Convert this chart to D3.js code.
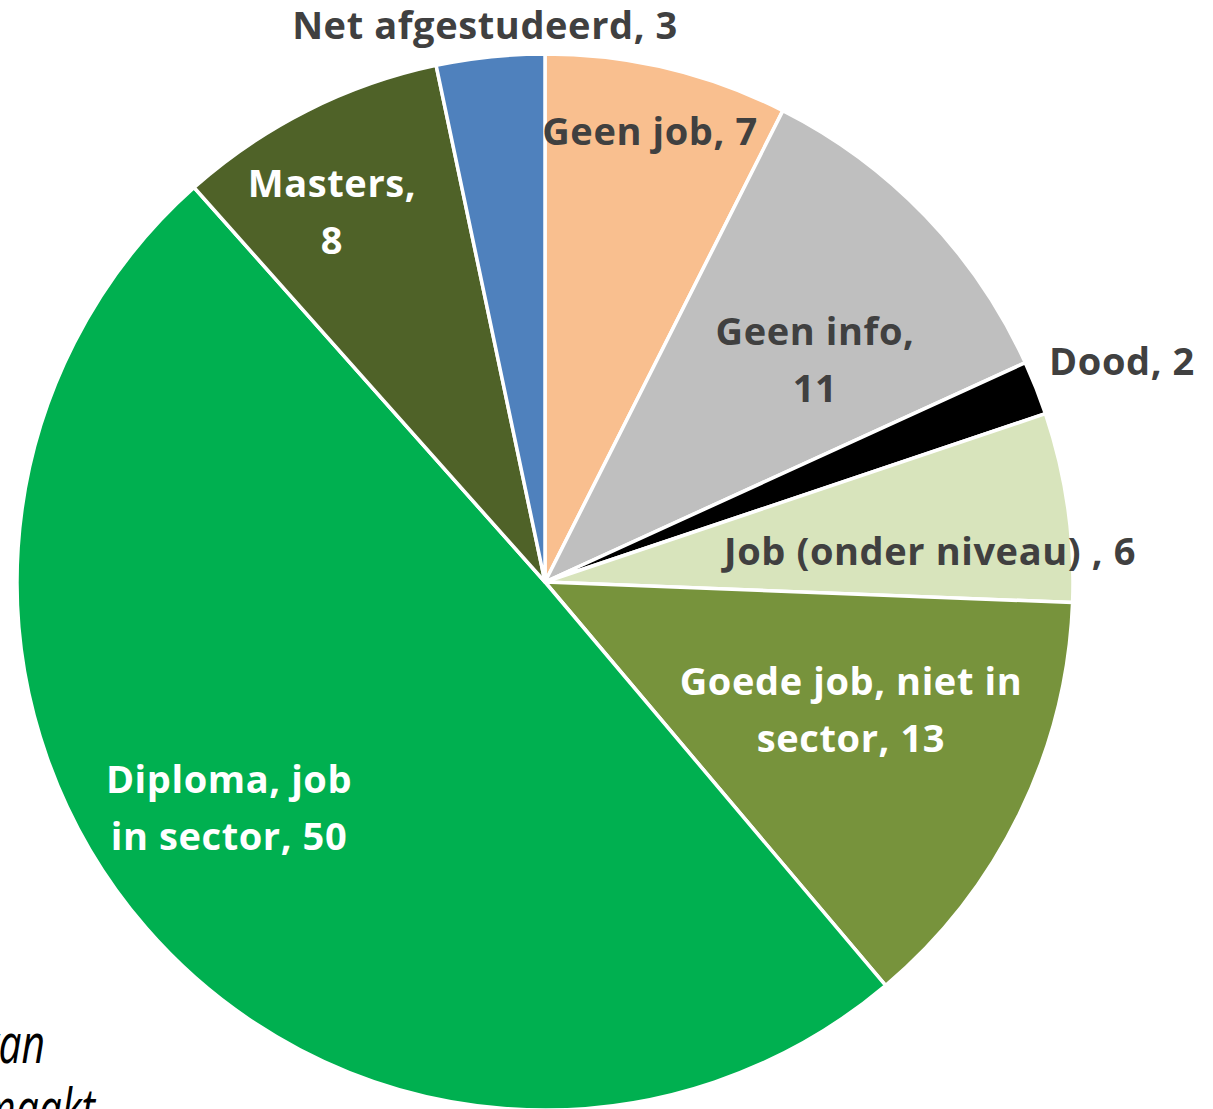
<!DOCTYPE html>
<html>
<head>
<meta charset="utf-8">
<script src="https://cdn.jsdelivr.net/npm/d3@7"></script>
<style>
  html, body { margin: 0; padding: 0; background: #ffffff; overflow: hidden; }
  svg { display: block; }
</style>
</head>
<body>
<svg id="chart" width="1213" height="1109"></svg>
<script>
// ---- data ----
// slice sizes read from the angles in the picture; the printed numbers are their rounded percentages
const categories = ["Geen job", "Geen info", "Dood", "Job (onder niveau) ", "Goede job, niet in sector", "Diploma, job in sector", "Masters", "Net afgestudeerd"];
const counts = [9, 13, 2, 7, 16, 60, 10, 4];
const labelLines = [
  ["Geen job, {v}"],
  ["Geen info,", "{v}"],
  ["Dood, {v}"],
  ["Job (onder niveau) , {v}"],
  ["Goede job, niet in", "sector, {v}"],
  ["Diploma, job", "in sector, {v}"],
  ["Masters,", "{v}"],
  ["Net afgestudeerd, {v}"]
];
const noteLines = ["van", "gemaakt"];

// ---- styling / layout (not data) ----
const colors = ["#F9BF8F", "#BFBFBF", "#000000", "#D8E4BC", "#77933C", "#00B050", "#4F6228", "#4F81BD"];
const labelColors = ["#404040", "#404040", "#404040", "#404040", "#ffffff", "#ffffff", "#ffffff", "#404040"];
const labelAnchors = [[650, 145], [815, 345], [1122, 375], [930, 565], [851, 695], [229, 793], [332, 197], [485, 39]];
const lineGap = 57;

const svg = d3.select("#chart");
const cx = 545, cy = 582, R = 528;
const total = d3.sum(counts);
const pct = counts.map(c => Math.round(c / total * 100));

// note text (partially off the left edge in the original)
[[45, 1063], [95, 1128]].forEach((p, i) => {
  svg.append("g")
    .attr("transform", `translate(${p[0]},${p[1]}) scale(0.74,1)`)
    .append("text")
    .attr("font-family", "'Open Sans', sans-serif")
    .attr("font-style", "italic")
    .attr("font-size", 55)
    .attr("fill", "#000")
    .attr("text-anchor", "end")
    .text(noteLines[i]);
});

const pie = d3.pie().sort(null).value(d => d).startAngle(0).endAngle(2 * Math.PI);
const arc = d3.arc().innerRadius(0).outerRadius(R);
const arcs = pie(counts);

const g = svg.append("g").attr("transform", `translate(${cx},${cy})`);
g.selectAll("path")
  .data(arcs)
  .join("path")
  .attr("d", arc)
  .attr("fill", (d, i) => colors[i])
  .attr("stroke", "#ffffff")
  .attr("stroke-width", 3.5)
  .attr("stroke-linejoin", "round");

const lab = svg.append("g")
  .attr("font-family", "'Open Sans', sans-serif")
  .attr("font-weight", 700)
  .attr("font-size", 38)
  .attr("letter-spacing", 0.6)
  .attr("text-anchor", "middle");

labelLines.forEach((lines, i) => {
  const t = lab.append("text")
    .attr("fill", labelColors[i])
    .attr("x", labelAnchors[i][0])
    .attr("y", labelAnchors[i][1]);
  lines.forEach((ln, j) => {
    t.append("tspan")
      .attr("x", labelAnchors[i][0])
      .attr("y", labelAnchors[i][1] + j * lineGap)
      .text(ln.replace("{v}", pct[i]));
  });
});
</script>
</body>
</html>
